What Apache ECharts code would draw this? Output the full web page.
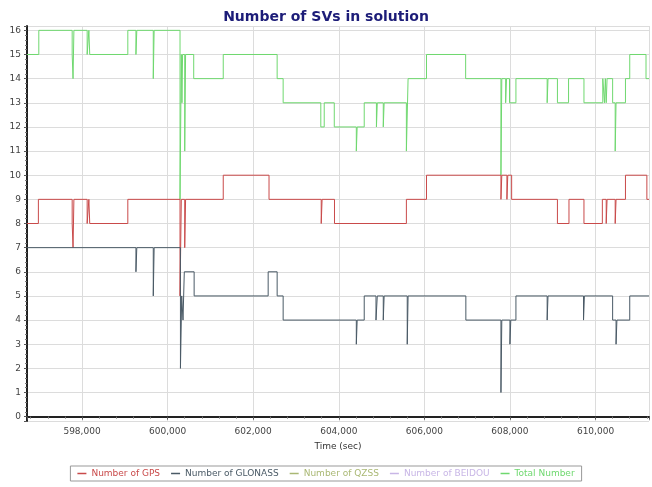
<!DOCTYPE html>
<html>
<head>
<meta charset="utf-8">
<script src="https://cdn.jsdelivr.net/npm/echarts@6/dist/echarts.min.js"></script>
<style>
  html, body { margin: 0; padding: 0; background: #fff; }
  #chart { width: 652px; height: 487px; }
</style>
</head>
<body>
<div id="chart"></div>
<script type="text/javascript">
// step change points: [time (sec), number of SVs from this time on]
var gpsSteps = [
  [596714, 8], [596980, 9], [597770, 8], [597790, 7], [597810, 9], [598120, 8], [598160, 9], [598180, 8],
  [599070, 9], [600290, 5], [600320, 9], [600400, 7], [600420, 9], [601300, 10], [602370, 9],
  [603590, 8], [603610, 9], [603900, 8], [605580, 9], [606050, 10], [607790, 9], [607810, 10],
  [607930, 9], [607950, 10], [608040, 9], [609110, 8], [609380, 9], [609730, 8], [610160, 9],
  [610250, 8], [610270, 9], [610460, 8], [610480, 9], [610700, 10], [611200, 9], [611250, 9]
];
var glonassSteps = [
  [596714, 7], [599260, 6], [599280, 7], [599665, 5], [599685, 7], [600300, 2], [600330, 5],
  [600360, 4], [600390, 6], [600620, 5], [602350, 6], [602560, 5], [602700, 4], [604410, 3],
  [604430, 4], [604595, 5], [604870, 4], [604900, 5], [605040, 4], [605060, 5], [605600, 3],
  [605620, 5], [606970, 4], [607790, 1], [607810, 4], [608000, 3], [608020, 4], [608140, 5],
  [608870, 4], [608890, 5], [609720, 4], [609740, 5], [610400, 4], [610480, 3], [610500, 4],
  [610800, 5], [611250, 5]
];
var qzssSteps = [];
var beidouSteps = [];
var totalSteps = [
  [596714, 15], [596990, 16], [597770, 15], [597790, 14], [597810, 16], [598120, 15], [598160, 16],
  [598180, 15], [599070, 16], [599260, 15], [599280, 16], [599665, 14], [599685, 16], [600290, 9],
  [600320, 15], [600335, 13], [600350, 15], [600400, 11], [600420, 15], [600610, 14], [601300, 15],
  [602560, 14], [602700, 13], [603580, 12], [603660, 13], [603895, 12], [604410, 11], [604430, 12],
  [604595, 13], [604880, 12], [604900, 13], [605040, 12], [605060, 13], [605580, 11], [605620, 14],
  [606050, 15], [606965, 14], [607790, 10], [607810, 14], [607900, 13], [607920, 14], [607990, 13],
  [608140, 14], [608870, 13], [608890, 14], [609110, 13], [609370, 14], [609730, 13], [610170, 14],
  [610210, 13], [610230, 14], [610250, 13], [610270, 14], [610400, 13], [610460, 11], [610480, 13],
  [610700, 14], [610800, 15], [611180, 14], [611250, 14]
];
var seriesNames = ['Number of GPS', 'Number of GLONASS', 'Number of QZSS', 'Number of BEIDOU', 'Total Number'];
var seriesColors = ['#c94a4a', '#4a5a66', '#aab874', '#c8b6e6', '#6fd86f'];
var seriesData = [gpsSteps, glonassSteps, qzssSteps, beidouSteps, totalSteps];

function addCommas(v) {
  return String(v).replace(/\B(?=(\d{3})+(?!\d))/g, ',');
}

var myChart = echarts.init(document.getElementById('chart'));
var series = [];
for (var i = 0; i < seriesNames.length; i++) {
  series.push({
    name: seriesNames[i],
    type: 'line',
    step: 'end',
    showSymbol: false,
    symbol: 'none',
    data: seriesData[i],
    color: seriesColors[i],
    lineStyle: { width: 1, color: seriesColors[i] }
  });
}
// draw total behind the others like the reference
series.unshift(series.pop());

var option = {
  animation: false,
  backgroundColor: '#fff',
  textStyle: { fontFamily: 'DejaVu Sans' },
  title: {
    text: 'Number of SVs in solution',
    left: 'center',
    top: 5,
    textStyle: { fontSize: 14, fontWeight: 'bold', color: '#1c1c78', fontFamily: 'DejaVu Sans' }
  },
  legend: {
    data: seriesNames.map(function (n, k) {
      return { name: n, textStyle: { color: seriesColors[k] } };
    }),
    left: 'center',
    top: 466,
    icon: 'rect',
    itemWidth: 9,
    itemHeight: 1.5,
    itemGap: 11,
    padding: [3, 7],
    borderColor: '#999',
    borderWidth: 1,
    textStyle: { fontSize: 9, fontFamily: 'DejaVu Sans' }
  },
  grid: { left: 27, right: 1, top: 26, bottom: 66 },
  xAxis: {
    type: 'value',
    min: 596714,
    max: 611250,
    minInterval: 2000,
    maxInterval: 2000,
    name: 'Time (sec)',
    nameLocation: 'middle',
    nameGap: 21,
    nameTextStyle: { fontSize: 9, color: '#333' },
    axisLine: { show: true, lineStyle: { color: '#222', width: 2 } },
    axisTick: { show: true, length: 3, lineStyle: { color: '#555' } },
    minorTick: { show: true, splitNumber: 5, length: 2, lineStyle: { color: '#777' } },
    axisLabel: {
      fontSize: 9, color: '#444', margin: 6,
      formatter: function (v) { return v % 2000 === 0 ? addCommas(v) : ''; }
    },
    splitLine: { show: true, lineStyle: { color: '#dcdcdc', width: 1 } }
  },
  yAxis: {
    type: 'value',
    min: -0.18,
    max: 16.18,
    minInterval: 1,
    maxInterval: 1,
    axisLine: { show: true, lineStyle: { color: '#222', width: 2 } },
    axisTick: { show: true, length: 3, lineStyle: { color: '#555' } },
    minorTick: { show: true, splitNumber: 5, length: 2, lineStyle: { color: '#777' } },
    axisLabel: {
      fontSize: 9, color: '#444', margin: 6,
      formatter: function (v) { return Math.abs(v - Math.round(v)) < 1e-6 ? String(Math.round(v)) : ''; }
    },
    splitLine: { show: true, lineStyle: { color: '#dcdcdc', width: 1 } }
  },
  series: series
};
myChart.setOption(option);
</script>
</body>
</html>
